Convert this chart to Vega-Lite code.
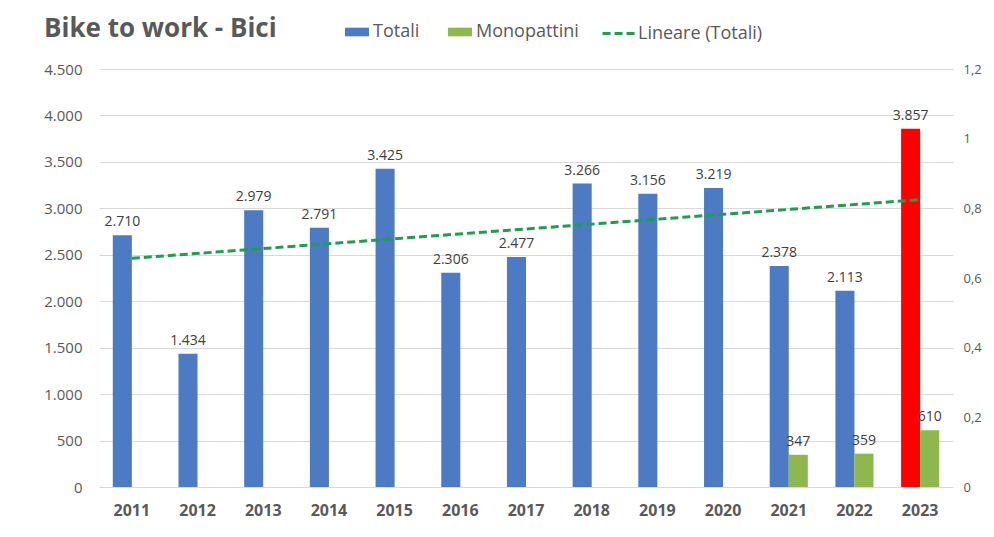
{
  "$schema": "https://vega.github.io/schema/vega-lite/v6.json",
  "autosize": {"type": "none"},
  "width": 854,
  "height": 418,
  "padding": {"left": 99, "top": 69, "right": 41, "bottom": 50},
  "background": "white",
  "config": {
    "font": "Open Sans",
    "view": {"stroke": null},
    "locale": {"number": {"decimal": ",", "thousands": ".", "grouping": [3], "currency": ["€", ""]}}
  },
  "title": {
    "text": "Bike to work - Bici",
    "anchor": "start",
    "frame": "group",
    "dx": -55,
    "offset": -27,
    "fontSize": 26,
    "fontWeight": "bold",
    "color": "#595959",
    "font": "Open Sans"
  },
  "data": {
    "values": [
      {"anno": 2011, "serie": "Totali", "valore": 2710},
      {"anno": 2012, "serie": "Totali", "valore": 1434},
      {"anno": 2013, "serie": "Totali", "valore": 2979},
      {"anno": 2014, "serie": "Totali", "valore": 2791},
      {"anno": 2015, "serie": "Totali", "valore": 3425},
      {"anno": 2016, "serie": "Totali", "valore": 2306},
      {"anno": 2017, "serie": "Totali", "valore": 2477},
      {"anno": 2018, "serie": "Totali", "valore": 3266},
      {"anno": 2019, "serie": "Totali", "valore": 3156},
      {"anno": 2020, "serie": "Totali", "valore": 3219},
      {"anno": 2021, "serie": "Totali", "valore": 2378},
      {"anno": 2022, "serie": "Totali", "valore": 2113},
      {"anno": 2023, "serie": "Totali", "valore": 3857},
      {"anno": 2011, "serie": "Monopattini", "valore": 0},
      {"anno": 2012, "serie": "Monopattini", "valore": 0},
      {"anno": 2013, "serie": "Monopattini", "valore": 0},
      {"anno": 2014, "serie": "Monopattini", "valore": 0},
      {"anno": 2015, "serie": "Monopattini", "valore": 0},
      {"anno": 2016, "serie": "Monopattini", "valore": 0},
      {"anno": 2017, "serie": "Monopattini", "valore": 0},
      {"anno": 2018, "serie": "Monopattini", "valore": 0},
      {"anno": 2019, "serie": "Monopattini", "valore": 0},
      {"anno": 2020, "serie": "Monopattini", "valore": 0},
      {"anno": 2021, "serie": "Monopattini", "valore": 347},
      {"anno": 2022, "serie": "Monopattini", "valore": 359},
      {"anno": 2023, "serie": "Monopattini", "valore": 610}
    ]
  },
  "layer": [
    {
      "layer": [
        {
          "mark": {"type": "bar"},
          "encoding": {
            "x": {
              "field": "anno", "type": "ordinal",
              "scale": {"paddingInner": 0.42, "paddingOuter": 0.21},
              "axis": {"title": null, "labelAngle": 0, "labelFontSize": 16, "labelFontWeight": "bold", "labelColor": "#595959", "labelPadding": 15, "domain": false, "ticks": false}
            },
            "xOffset": {"field": "serie", "type": "nominal", "sort": ["Totali", "Monopattini"]},
            "y": {
              "field": "valore", "type": "quantitative",
              "scale": {"domain": [0, 4500]},
              "axis": {"title": null, "orient": "left", "values": [0, 500, 1000, 1500, 2000, 2500, 3000, 3500, 4000, 4500], "format": ",d", "labelFontSize": 15, "labelColor": "#595959", "labelPadding": 17, "domain": false, "ticks": false, "gridColor": "#D9D9D9", "gridWidth": 1}
            },
            "color": {
              "field": "serie", "type": "nominal",
              "scale": {"domain": ["Totali", "Monopattini"], "range": ["#4D7BC3", "#8EB84E"]},
              "legend": {
                "title": null, "orient": "none", "legendX": 246, "legendY": -49, "direction": "horizontal",
                "symbolType": "M-1,-0.36H1V0.36H-1Z", "symbolSize": 576, "symbolStrokeWidth": 0,
                "labelFontSize": 18, "labelColor": "#595959", "labelOffset": 4, "columnPadding": 28
              },
              "condition": {"test": "datum.anno === 2023 && datum.serie === 'Totali'", "value": "#FF0000"}
            }
          }
        },
        {
          "transform": [{"filter": "datum.valore > 0"}],
          "mark": {"type": "text", "baseline": "bottom", "dy": -6, "fontSize": 14, "color": "#404040"},
          "encoding": {
            "x": {"field": "anno", "type": "ordinal"},
            "xOffset": {"field": "serie", "type": "nominal", "sort": ["Totali", "Monopattini"]},
            "y": {"field": "valore", "type": "quantitative"},
            "text": {"field": "valore", "type": "quantitative", "format": ",d"}
          }
        }
      ]
    },
    {
      "transform": [
        {"filter": "datum.serie === 'Totali'"},
        {"regression": "valore", "on": "anno", "method": "linear"}
      ],
      "mark": {"type": "line", "strokeWidth": 3, "strokeDash": [8, 4], "color": "#1E9E4F"},
      "encoding": {
        "x": {"field": "anno", "type": "quantitative", "scale": {"domain": [2010.5, 2023.5], "nice": false, "zero": false}, "axis": null},
        "y": {"field": "valore", "type": "quantitative", "axis": {"orient": "right", "title": null, "values": [0, 750, 1500, 2250, 3000, 3750, 4500], "labelExpr": "replace(format(datum.value / 3750, '.1~f'), '.', ',')", "labelFontSize": 13, "labelColor": "#595959", "labelPadding": 10, "domain": false, "ticks": false, "grid": false}},
        "strokeDash": {
          "datum": "Lineare (Totali)", "type": "nominal",
          "scale": {"range": [[8, 4]]},
          "legend": {
            "title": null, "orient": "none", "legendX": 502, "legendY": -54,
            "symbolType": "stroke", "symbolStrokeColor": "#1E9E4F", "symbolStrokeWidth": 3, "symbolSize": 1150,
            "labelFontSize": 18, "labelColor": "#595959", "labelOffset": 0
          }
        }
      }
    }
  ],
  "resolve": {"scale": {"x": "independent"}, "axis": {"y": "independent"}}
}
